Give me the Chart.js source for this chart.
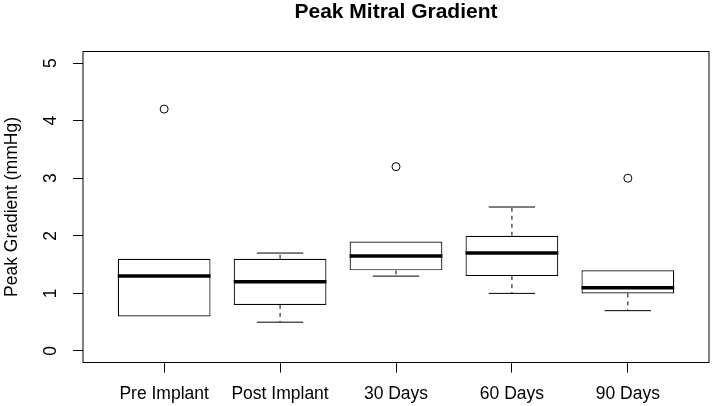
<!DOCTYPE html>
<html>
<head>
<meta charset="utf-8">
<script src="https://cdn.jsdelivr.net/npm/chart.js@4.4.1/dist/chart.umd.min.js"></script>
<style>
  html, body { margin: 0; padding: 0; background: #fff; }
  #wrap { width: 714px; height: 406px; }
</style>
</head>
<body>
<div id="wrap"><canvas id="chart" width="714" height="406"></canvas></div>
<script>
// Box plot data
const categories = ['Pre Implant', 'Post Implant', '30 Days', '60 Days', '90 Days'];
const whiskerLow = [0.6, 0.5, 1.3, 1.0, 0.7];
const q1 = [0.6, 0.8, 1.4, 1.3, 1.0];
const medians = [1.3, 1.2, 1.65, 1.7, 1.1];
const q3 = [1.6, 1.6, 1.9, 2.0, 1.4];
const whiskerHigh = [1.6, 1.7, 1.9, 2.5, 1.4];
const outlierGroup = [1, 3, 5];
const outlierValues = [4.2, 3.2, 3.0];
const yTicks = [0, 1, 2, 3, 4, 5];

const FONT = "'Liberation Sans', Arial, Helvetica, sans-serif";
Chart.defaults.font.family = FONT;
Chart.defaults.color = '#000';

// Medians, whiskers, staples and the frame, placed with the chart scales
const boxExtras = {
  id: 'boxExtras',
  afterDatasetsDraw(chart) {
    const { ctx, scales: { x, y }, chartArea } = chart;
    ctx.save();
    ctx.strokeStyle = '#000';
    categories.forEach((c, i) => {
      const cx = x.getPixelForValue(i + 1);
      const halfBox = x.getPixelForValue(i + 1.4) - cx;
      const halfCap = halfBox / 2;
      // whiskers
      ctx.lineWidth = 1;
      ctx.setLineDash([4, 4]);
      ctx.beginPath();
      ctx.moveTo(cx, y.getPixelForValue(q3[i]));
      ctx.lineTo(cx, y.getPixelForValue(whiskerHigh[i]));
      ctx.moveTo(cx, y.getPixelForValue(q1[i]));
      ctx.lineTo(cx, y.getPixelForValue(whiskerLow[i]));
      ctx.stroke();
      ctx.setLineDash([]);
      // staples (skipped where the whisker ends on the box edge)
      ctx.beginPath();
      if (whiskerHigh[i] > q3[i]) {
        const py = y.getPixelForValue(whiskerHigh[i]);
        ctx.moveTo(cx - halfCap, py);
        ctx.lineTo(cx + halfCap, py);
      }
      if (whiskerLow[i] < q1[i]) {
        const py = y.getPixelForValue(whiskerLow[i]);
        ctx.moveTo(cx - halfCap, py);
        ctx.lineTo(cx + halfCap, py);
      }
      ctx.stroke();
      // median
      ctx.lineWidth = 3.5;
      ctx.beginPath();
      const my = y.getPixelForValue(medians[i]);
      ctx.moveTo(cx - halfBox, my);
      ctx.lineTo(cx + halfBox, my);
      ctx.stroke();
    });
    // frame
    ctx.lineWidth = 1;
    ctx.strokeRect(chartArea.left, chartArea.top,
      chartArea.right - chartArea.left, chartArea.bottom - chartArea.top);
    ctx.restore();
  }
};

new Chart(document.getElementById('chart'), {
  type: 'bar',
  data: {
    datasets: [{
      label: 'IQR',
      data: categories.map((c, i) => ({ x: i + 1, y: [q1[i], q3[i]] })),
      backgroundColor: '#fff',
      borderColor: '#000',
      borderWidth: 1.2,
      borderSkipped: false,
      barPercentage: 0.8,
      categoryPercentage: 1
    }, {
      type: 'scatter',
      label: 'Outliers',
      data: outlierGroup.map((g, k) => ({ x: g, y: outlierValues[k] })),
      pointStyle: 'circle',
      pointRadius: 4,
      backgroundColor: 'rgba(0,0,0,0)',
      borderColor: '#000',
      borderWidth: 1
    }]
  },
  options: {
    responsive: false,
    animation: false,
    devicePixelRatio: 1,
    layout: { padding: { right: 1.4 } },
    plugins: {
      legend: { display: false },
      tooltip: { enabled: false },
      title: {
        display: true,
        fullSize: false,
        text: 'Peak Mitral Gradient',
        color: '#000',
        font: { size: 21, weight: 'bold' },
        padding: { top: 0, bottom: 26.3 }
      }
    },
    scales: {
      x: {
        type: 'linear',
        min: 0.3,
        max: 5.7,
        offset: false,
        afterBuildTicks: s => { s.ticks = categories.map((c, i) => ({ value: i + 1 })); },
        afterFit: s => { s.height = 43.5; },
        border: { display: false },
        grid: { offset: false, drawOnChartArea: false, tickLength: 10, tickColor: '#000' },
        ticks: {
          autoSkip: false,
          maxRotation: 0,
          padding: 11,
          color: '#000',
          font: { size: 17.5 },
          callback: (v, idx) => categories[idx]
        }
      },
      y: {
        min: -0.2,
        max: 5.2,
        afterBuildTicks: s => { s.ticks = yTicks.map(v => ({ value: v })); },
        afterFit: s => { s.width = 83; },
        border: { display: false },
        grid: { drawOnChartArea: false, tickLength: 10, tickColor: '#000' },
        ticks: {
          minRotation: 90,
          maxRotation: 90,
          crossAlign: 'center',
          padding: 17,
          color: '#000',
          font: { size: 17.5 }
        },
        title: {
          display: true,
          text: 'Peak Gradient (mmHg)',
          color: '#000',
          font: { size: 17.5 },
          padding: { top: 2, bottom: 0 }
        }
      }
    }
  },
  plugins: [boxExtras]
});
</script>
</body>
</html>
